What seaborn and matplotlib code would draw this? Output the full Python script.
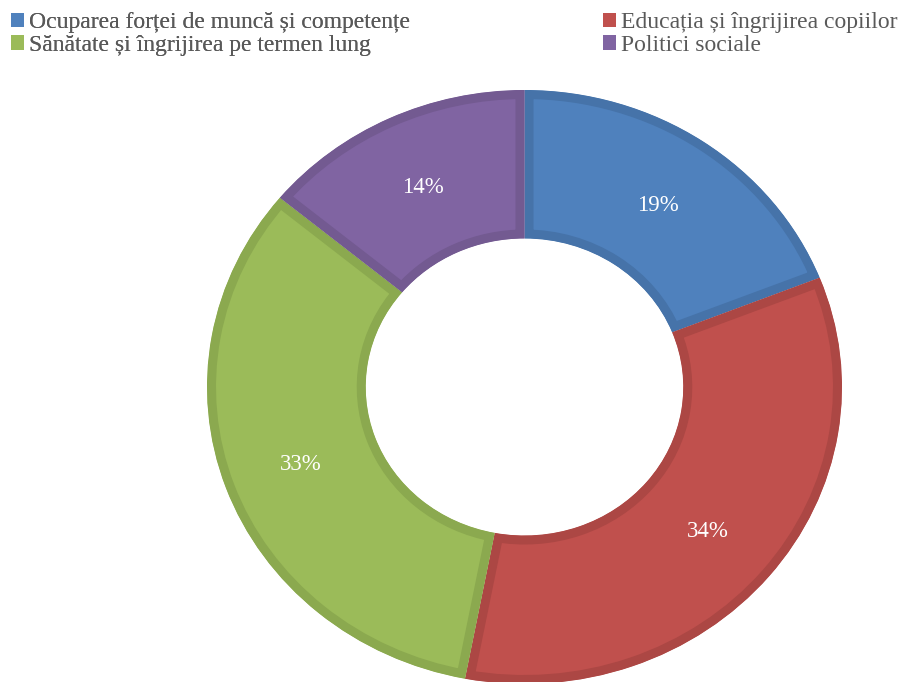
import matplotlib
matplotlib.use("Agg")
import matplotlib.pyplot as plt
import matplotlib.patches as mpatches
import seaborn as sns

categories = ["Ocuparea forței de muncă și competențe",
              "Educația și îngrijirea copiilor",
              "Sănătate și îngrijirea pe termen lung",
              "Politici sociale"]
values = [19, 34, 33, 14]
fill_colors = ["#4F81BD", "#C0504D", "#9BBB59", "#8064A2"]
edge_colors = ["#4673A9", "#AC4744", "#8BA94F", "#735A91"]

sns.set_theme(style="white")
plt.rcParams["font.family"] = ["Liberation Serif", "DejaVu Serif"]

fig = plt.figure(figsize=(9, 6.82), dpi=100)
# donut spans x 207..842, y 90..684 (pixels, bottom slightly cropped)
ax = fig.add_axes([207 / 900, -2 / 682, 635 / 900, 594 / 682])

palette = sns.color_palette(fill_colors)
wedges, texts, autotexts = ax.pie(
    values, colors=palette, startangle=90, counterclock=False,
    radius=1.0, autopct="%.0f%%", pctdistance=0.75,
    wedgeprops=dict(width=0.5, linewidth=13, joinstyle="miter"),
    textprops=dict(color="white", fontsize=16.5))
for w, ec in zip(wedges, edge_colors):
    w.set_edgecolor(ec)
    w.set_clip_on(True)
    w.set_clip_path(w)
for t in autotexts:
    t.set_va("center_baseline")
ax.set_aspect("auto")
ax.set_xlim(-1.0, 1.0)
ax.set_ylim(-1.0, 1.0)
ax.axis("off")

text_color = "#595959"
h = [mpatches.Patch(facecolor=c, edgecolor="none") for c in fill_colors]
common = dict(loc="upper left", frameon=False, fontsize=17,
              labelcolor=text_color, handlelength=0.55, handleheight=0.55,
              handletextpad=0.2, labelspacing=0.08, borderaxespad=0,
              borderpad=0)
leg1 = fig.legend([h[0], h[2]], [categories[0], categories[2]],
                  bbox_to_anchor=(11 / 900, 1 - 12 / 682), **common)
fig.add_artist(leg1)
leg2 = fig.legend([h[1], h[3]], [categories[1], categories[3]],
                  bbox_to_anchor=(603 / 900, 1 - 12 / 682), **common)

fig.savefig("out.png", dpi=100)
